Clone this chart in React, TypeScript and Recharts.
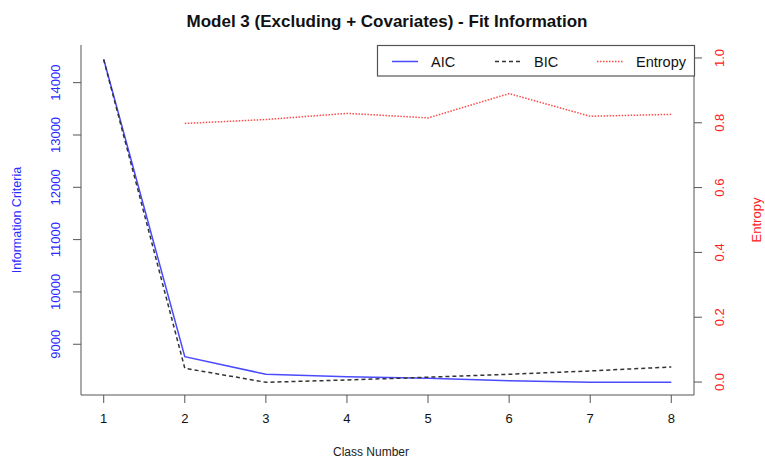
import React from "react";
import {
  ComposedChart,
  Line,
  XAxis,
  YAxis,
  Label,
} from "recharts";

// values
const classes = [1, 2, 3, 4, 5, 6, 7, 8];
const aic = [14447, 8763, 8426, 8381, 8350, 8304, 8273, 8273];
const bic = [14440, 8541, 8273, 8317, 8370, 8426, 8490, 8566];
const entropy = [null, 0.798, 0.81, 0.829, 0.815, 0.89, 0.82, 0.826];

const icTicks = [9000, 10000, 11000, 12000, 13000, 14000];
const entropyTicks = [0, 0.2, 0.4, 0.6, 0.8, 1.0];
const seriesNames = ["AIC", "BIC", "Entropy"];

const title = "Model 3 (Excluding + Covariates) - Fit Information";

const data = classes.map((c, i) => ({
  cls: c,
  AIC: aic[i],
  BIC: bic[i],
  Entropy: entropy[i],
}));

const FONT = "'Liberation Sans', Arial, sans-serif";
const BLUE = "#2a2aff";
const RED = "#ff2020";
const BOX = "#555555";

const LeftTick = ({ x, y, payload }: any) => (
  <text
    x={x - 11}
    y={y}
    transform={`rotate(-90 ${x - 11} ${y})`}
    textAnchor="middle"
    fill={BLUE}
    fontSize={13}
    fontFamily={FONT}
  >
    {payload.value}
  </text>
);

const RightTick = ({ x, y, payload }: any) => (
  <text
    x={x + 20}
    y={y}
    transform={`rotate(-90 ${x + 20} ${y})`}
    textAnchor="middle"
    fill={RED}
    fontSize={13}
    fontFamily={FONT}
  >
    {Number(payload.value).toFixed(1)}
  </text>
);

const lineStyles: Record<string, { stroke: string; dash?: string; width: number }> = {
  AIC: { stroke: "#4a4aff", width: 1.5 },
  BIC: { stroke: "#333333", dash: "4 3", width: 1.5 },
  Entropy: { stroke: "#ff4a4a", dash: "1.5 1.5", width: 1.5 },
};

export default function App() {
  const legendX = [392, 495, 597];
  return (
    <div style={{ position: "absolute", left: 0, top: 0, width: 765, height: 463, background: "#fff" }}>
      <ComposedChart
        width={765}
        height={463}
        data={data}
        margin={{ top: 45, right: 11, left: 21, bottom: 38 }}
      >
        <XAxis
          dataKey="cls"
          type="number"
          domain={[0.72, 8.28]}
          ticks={classes}
          allowDataOverflow
          height={30}
          tickSize={8}
          tickMargin={11}
          stroke={BOX}
          tick={{ fill: "#111", fontSize: 13, fontFamily: FONT }}
        />
        <XAxis
          xAxisId="top"
          dataKey="cls"
          type="number"
          orientation="top"
          domain={[0.72, 8.28]}
          height={0}
          tick={false}
          tickLine={false}
          stroke={BOX}
        />
        <YAxis
          yAxisId="ic"
          domain={[8030, 14720]}
          ticks={icTicks}
          allowDataOverflow
          width={60}
          tickSize={8}
          stroke={BOX}
          tick={<LeftTick />}
        >
          <Label
            value="Information Criteria"
            angle={-90}
            position="left"
            offset={4}
            style={{ fill: BLUE, fontSize: 12.5, fontFamily: FONT, textAnchor: "middle" }}
          />
        </YAxis>
        <YAxis
          yAxisId="ent"
          orientation="right"
          domain={[-0.04, 1.04]}
          ticks={entropyTicks}
          allowDataOverflow
          width={60}
          tickSize={8}
          stroke={BOX}
          tick={<RightTick />}
        >
          <Label
            value="Entropy"
            angle={-90}
            position="right"
            offset={2}
            style={{ fill: RED, fontSize: 13, fontFamily: FONT, textAnchor: "middle" }}
          />
        </YAxis>
        <Line
          yAxisId="ic"
          dataKey="AIC"
          type="linear"
          stroke={lineStyles.AIC.stroke}
          strokeWidth={lineStyles.AIC.width}
          dot={false}
          activeDot={false}
          isAnimationActive={false}
        />
        <Line
          yAxisId="ic"
          dataKey="BIC"
          type="linear"
          stroke={lineStyles.BIC.stroke}
          strokeDasharray={lineStyles.BIC.dash}
          strokeWidth={lineStyles.BIC.width}
          dot={false}
          activeDot={false}
          isAnimationActive={false}
        />
        <Line
          yAxisId="ent"
          dataKey="Entropy"
          type="linear"
          stroke={lineStyles.Entropy.stroke}
          strokeDasharray={lineStyles.Entropy.dash}
          strokeWidth={lineStyles.Entropy.width}
          dot={false}
          activeDot={false}
          isAnimationActive={false}
        />
      </ComposedChart>
      <svg
        width={765}
        height={463}
        style={{ position: "absolute", left: 0, top: 0, pointerEvents: "none" }}
      >
        <text
          x={387}
          y={27}
          textAnchor="middle"
          fontSize={17}
          fontWeight="bold"
          fontFamily={FONT}
          fill="#111"
        >
          {title}
        </text>
        <text x={371} y={456} textAnchor="middle" fontSize={12} fontFamily={FONT} fill="#222">
          Class Number
        </text>
        <rect x={377.5} y={45.5} width={317} height={30.5} fill="#fff" stroke={BOX} strokeWidth={1.2} />
        {seriesNames.map((name, i) => {
          const s = lineStyles[name];
          return (
            <g key={name}>
              <line
                x1={legendX[i]}
                x2={legendX[i] + 26}
                y1={61.5}
                y2={61.5}
                stroke={s.stroke}
                strokeWidth={s.width}
                strokeDasharray={s.dash}
              />
              <text x={legendX[i] + 39} y={66.5} fontSize={14.5} fontFamily={FONT} fill="#111">
                {name}
              </text>
            </g>
          );
        })}
      </svg>
    </div>
  );
}
